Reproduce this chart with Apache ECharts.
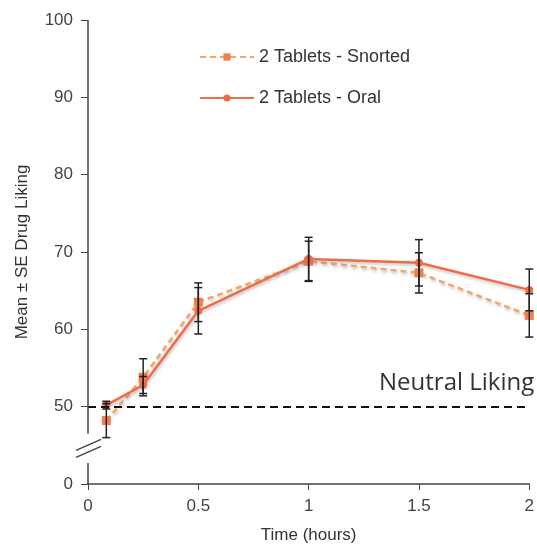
<!DOCTYPE html>
<html>
<head>
<meta charset="utf-8">
<script src="https://cdn.jsdelivr.net/npm/echarts@6/dist/echarts.min.js"></script>
<style>
  html, body { margin: 0; padding: 0; background: #fff; }
  #container { width: 537px; height: 549px; }
</style>
</head>
<body>
<div id="container"></div>
<script>
var times = [0.083, 0.25, 0.5, 1, 1.5, 2];
var snorted = [48.2, 53.8, 63.5, 68.8, 67.3, 61.8];
var snortedSE = [2.2, 2.4, 2.5, 2.6, 2.6, 2.8];
var oral = [50.2, 52.8, 62.4, 69.1, 68.6, 65.1];
var oralSE = [0.5, 1.1, 3.0, 2.8, 3.0, 2.7];
var xTicks = [0, 0.5, 1, 1.5, 2];
var yTicks = [0, 50, 60, 70, 80, 90, 100];
var neutral = 50;
// the axis is broken between 0 and 50: 0 is drawn one step below 50
var axisBreak = [42.7, 46.5];

var dom = document.getElementById("container");
var myChart = echarts.init(dom);

function pairs(ys) {
    return times.map(function (t, i) { return [t, ys[i]]; });
}
function errData(ys, se) {
    return times.map(function (t, i) { return [t, ys[i] - se[i], ys[i] + se[i]]; });
}
function renderErr(params, api) {
    var lo = api.coord([api.value(0), api.value(1)]);
    var hi = api.coord([api.value(0), api.value(2)]);
    var w = 4;
    var st = { stroke: '#222', lineWidth: 1.5 };
    return {
        type: 'group',
        children: [
            { type: 'line', shape: { x1: lo[0], y1: lo[1], x2: hi[0], y2: hi[1] }, style: st },
            { type: 'line', shape: { x1: lo[0] - w, y1: lo[1], x2: lo[0] + w, y2: lo[1] }, style: st },
            { type: 'line', shape: { x1: hi[0] - w, y1: hi[1], x2: hi[0] + w, y2: hi[1] }, style: st }
        ]
    };
}

var shadow = { shadowColor: 'rgba(90,90,110,0.35)', shadowBlur: 3, shadowOffsetX: 1, shadowOffsetY: 2 };

option = {
    backgroundColor: '#fff',
    animation: false,
    textStyle: { fontFamily: 'Liberation Sans' },
    legend: {
        orient: 'vertical',
        left: 194,
        top: 43,
        itemGap: 23,
        itemWidth: 54,
        itemHeight: 9,
        textStyle: { fontSize: 18, color: '#333' },
        data: ['2 Tablets - Snorted', '2 Tablets - Oral']
    },
    grid: {
        left: 88,
        right: 6,
        top: 20,
        bottom: 65
    },
    xAxis: {
        type: 'value',
        min: 0,
        max: 2,
        interval: 0.5,
        name: 'Time (hours)',
        nameLocation: 'middle',
        nameGap: 43,
        nameTextStyle: { fontSize: 17, color: '#333' },
        axisLine: { lineStyle: { color: '#444', width: 1.5 } },
        axisTick: { length: 6, lineStyle: { color: '#444' } },
        axisLabel: { fontSize: 17, color: '#444', margin: 14,
            formatter: function (v) { return xTicks.indexOf(v) >= 0 ? String(v) : ''; } },
        splitLine: { show: false }
    },
    yAxis: {
        type: 'value',
        min: 40,
        max: 100,
        interval: 10,
        name: 'Mean ± SE Drug Liking',
        nameLocation: 'middle',
        nameGap: 57,
        nameTextStyle: { fontSize: 17, color: '#333' },
        axisLine: { show: false },
        axisTick: { show: true, length: 7, lineStyle: { color: '#444' } },
        axisLabel: { fontSize: 17, color: '#444', margin: 15,
            formatter: function (v) { return v === 40 ? String(yTicks[0]) : String(v); } },
        splitLine: { show: false }
    },
    series: [
        {
            name: '2 Tablets - Snorted',
            type: 'line',
            data: pairs(snorted),
            symbol: 'rect',
            symbolSize: 9,
            z: 3,
            lineStyle: Object.assign({ color: '#f2a768', width: 2.5, type: [6, 4] }, shadow),
            itemStyle: { color: '#f07f4e' },
            markLine: {
                silent: true,
                symbol: 'none',
                lineStyle: { color: '#111', type: [8, 5], width: 2 },
                label: {
                    show: true,
                    position: 'insideEndTop',
                    formatter: 'Neutral Liking',
                    fontFamily: 'Open Sans',
                    fontSize: 24,
                    color: '#333',
                    distance: [-5, 12]
                },
                data: [{ yAxis: neutral }]
            }
        },
        {
            name: '2 Tablets - Oral',
            type: 'line',
            data: pairs(oral),
            symbol: 'circle',
            symbolSize: 8,
            z: 4,
            lineStyle: Object.assign({ color: '#ee6d47', width: 2.5 }, shadow),
            itemStyle: { color: '#ee6d47' }
        },
        {
            name: 'err-snorted',
            type: 'custom',
            z: 5,
            data: errData(snorted, snortedSE),
            renderItem: renderErr
        },
        {
            name: 'err-oral',
            type: 'custom',
            z: 5,
            data: errData(oral, oralSE),
            renderItem: renderErr
        },
        {
            name: 'y-axis',
            type: 'custom',
            clip: false,
            silent: true,
            z: 6,
            data: [[0, axisBreak[0], axisBreak[1]]],
            renderItem: function (params, api) {
                var top = api.coord([0, 100]);
                var b1 = api.coord([0, api.value(2)]);
                var b0 = api.coord([0, api.value(1)]);
                var bot = api.coord([0, 40]);
                var st = { stroke: '#444', lineWidth: 1.5 };
                var mid = (b0[1] + b1[1]) / 2;
                var x = top[0];
                return {
                    type: 'group',
                    children: [
                        { type: 'line', shape: { x1: x, y1: top[1], x2: x, y2: b1[1] }, style: st },
                        { type: 'line', shape: { x1: x, y1: b0[1], x2: x, y2: bot[1] }, style: st },
                        { type: 'line', shape: { x1: x - 12, y1: mid + 2, x2: x + 13, y2: mid - 9 }, style: st },
                        { type: 'line', shape: { x1: x - 12, y1: mid + 9, x2: x + 13, y2: mid - 2 }, style: st }
                    ]
                };
            }
        }
    ]
};

myChart.setOption(option, true);
</script>
</body>
</html>
